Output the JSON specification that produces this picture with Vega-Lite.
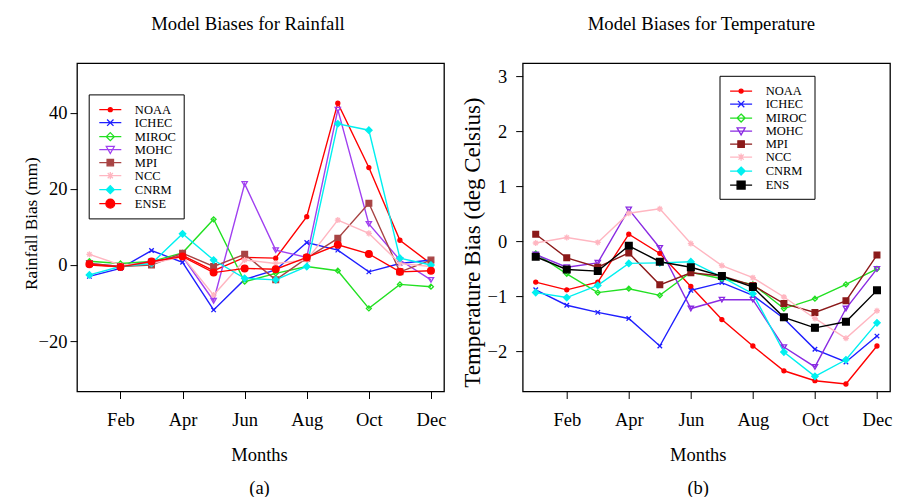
{
  "$schema": "https://vega.github.io/schema/vega-lite/v6.json",
  "background": "white",
  "padding": {"left": 21, "top": 14.1, "right": 5, "bottom": 2},
  "bounds": "flush",
  "spacing": 78.7,
  "config": {
    "font": "Liberation Serif",
    "view": {"stroke": "black", "strokeWidth": 1.3},
    "axis": {"domain": false, "grid": false, "ticks": true, "tickColor": "black", "tickSize": 7, "tickWidth": 1, "labelFont": "Liberation Serif", "labelFontSize": 18.5, "labelColor": "black", "labelOverlap": false, "labelFlush": false, "labelBound": false, "titleFont": "Liberation Serif", "titleFontWeight": "normal", "titleColor": "black"},
    "legend": {"labelFont": "Liberation Serif", "labelFontSize": 12.5, "labelColor": "black", "titleFont": "Liberation Serif", "titleFontSize": 1, "titlePadding": 1, "rowPadding": 0},
    "title": {"font": "Liberation Serif", "fontSize": 18.7, "fontWeight": "normal", "color": "black", "anchor": "middle", "frame": "group", "baseline": "alphabetic", "offset": 29}
  },
  "datasets": {
    "rain": [
      {"model":"NOAA","month":1,"bias":0},{"model":"NOAA","month":2,"bias":-0.5},{"model":"NOAA","month":3,"bias":0.5},{"model":"NOAA","month":4,"bias":2.5},{"model":"NOAA","month":5,"bias":-1.5},{"model":"NOAA","month":6,"bias":2.0},{"model":"NOAA","month":7,"bias":1.8},{"model":"NOAA","month":8,"bias":12.7},{"model":"NOAA","month":9,"bias":42.5},{"model":"NOAA","month":10,"bias":25.6},{"model":"NOAA","month":11,"bias":6.5},{"model":"NOAA","month":12,"bias":0.3},
      {"model":"ICHEC","month":1,"bias":-3.0},{"model":"ICHEC","month":2,"bias":-0.9},{"model":"ICHEC","month":3,"bias":3.8},{"model":"ICHEC","month":4,"bias":0.7},{"model":"ICHEC","month":5,"bias":-11.8},{"model":"ICHEC","month":6,"bias":-3.8},{"model":"ICHEC","month":7,"bias":-1.3},{"model":"ICHEC","month":8,"bias":5.9},{"model":"ICHEC","month":9,"bias":3.9},{"model":"ICHEC","month":10,"bias":-1.8},{"model":"ICHEC","month":11,"bias":0.4},{"model":"ICHEC","month":12,"bias":1.3},
      {"model":"MIROC","month":1,"bias":1.0},{"model":"MIROC","month":2,"bias":0.4},{"model":"MIROC","month":3,"bias":0.9},{"model":"MIROC","month":4,"bias":3.2},{"model":"MIROC","month":5,"bias":12.0},{"model":"MIROC","month":6,"bias":-4.4},{"model":"MIROC","month":7,"bias":-2.2},{"model":"MIROC","month":8,"bias":-0.4},{"model":"MIROC","month":9,"bias":-1.5},{"model":"MIROC","month":10,"bias":-11.4},{"model":"MIROC","month":11,"bias":-5.1},{"model":"MIROC","month":12,"bias":-5.7},
      {"model":"MOHC","month":1,"bias":0.4},{"model":"MOHC","month":2,"bias":-0.4},{"model":"MOHC","month":3,"bias":0.9},{"model":"MOHC","month":4,"bias":2.2},{"model":"MOHC","month":5,"bias":-9.4},{"model":"MOHC","month":6,"bias":21.3},{"model":"MOHC","month":7,"bias":3.9},{"model":"MOHC","month":8,"bias":2.0},{"model":"MOHC","month":9,"bias":40.8},{"model":"MOHC","month":10,"bias":10.8},{"model":"MOHC","month":11,"bias":1.3},{"model":"MOHC","month":12,"bias":-3.9},
      {"model":"MPI","month":1,"bias":0.4},{"model":"MPI","month":2,"bias":-0.4},{"model":"MPI","month":3,"bias":0.0},{"model":"MPI","month":4,"bias":3.1},{"model":"MPI","month":5,"bias":-0.4},{"model":"MPI","month":6,"bias":2.8},{"model":"MPI","month":7,"bias":-3.9},{"model":"MPI","month":8,"bias":1.8},{"model":"MPI","month":9,"bias":7.0},{"model":"MPI","month":10,"bias":16.2},{"model":"MPI","month":11,"bias":-1.8},{"model":"MPI","month":12,"bias":1.3},
      {"model":"NCC","month":1,"bias":2.8},{"model":"NCC","month":2,"bias":0.0},{"model":"NCC","month":3,"bias":0.4},{"model":"NCC","month":4,"bias":2.2},{"model":"NCC","month":5,"bias":-7.9},{"model":"NCC","month":6,"bias":1.3},{"model":"NCC","month":7,"bias":0.4},{"model":"NCC","month":8,"bias":1.3},{"model":"NCC","month":9,"bias":11.8},{"model":"NCC","month":10,"bias":8.3},{"model":"NCC","month":11,"bias":0.4},{"model":"NCC","month":12,"bias":-0.4},
      {"model":"CNRM","month":1,"bias":-2.6},{"model":"CNRM","month":2,"bias":-0.4},{"model":"CNRM","month":3,"bias":0.4},{"model":"CNRM","month":4,"bias":8.2},{"model":"CNRM","month":5,"bias":1.3},{"model":"CNRM","month":6,"bias":-3.5},{"model":"CNRM","month":7,"bias":-3.9},{"model":"CNRM","month":8,"bias":-0.4},{"model":"CNRM","month":9,"bias":37.1},{"model":"CNRM","month":10,"bias":35.4},{"model":"CNRM","month":11,"bias":1.8},{"model":"CNRM","month":12,"bias":0.0},
      {"model":"ENSE","month":1,"bias":0.2},{"model":"ENSE","month":2,"bias":-0.5},{"model":"ENSE","month":3,"bias":0.9},{"model":"ENSE","month":4,"bias":2.2},{"model":"ENSE","month":5,"bias":-2.0},{"model":"ENSE","month":6,"bias":-0.9},{"model":"ENSE","month":7,"bias":-1.1},{"model":"ENSE","month":8,"bias":2.0},{"model":"ENSE","month":9,"bias":5.3},{"model":"ENSE","month":10,"bias":2.9},{"model":"ENSE","month":11,"bias":-1.8},{"model":"ENSE","month":12,"bias":-1.5}
    ],
    "temp": [
      {"model":"NOAA","month":1,"bias":-0.74},{"model":"NOAA","month":2,"bias":-0.88},{"model":"NOAA","month":3,"bias":-0.74},{"model":"NOAA","month":4,"bias":0.13},{"model":"NOAA","month":5,"bias":-0.22},{"model":"NOAA","month":6,"bias":-0.82},{"model":"NOAA","month":7,"bias":-1.42},{"model":"NOAA","month":8,"bias":-1.90},{"model":"NOAA","month":9,"bias":-2.35},{"model":"NOAA","month":10,"bias":-2.53},{"model":"NOAA","month":11,"bias":-2.59},{"model":"NOAA","month":12,"bias":-1.90},
      {"model":"ICHEC","month":1,"bias":-0.88},{"model":"ICHEC","month":2,"bias":-1.16},{"model":"ICHEC","month":3,"bias":-1.29},{"model":"ICHEC","month":4,"bias":-1.40},{"model":"ICHEC","month":5,"bias":-1.90},{"model":"ICHEC","month":6,"bias":-0.89},{"model":"ICHEC","month":7,"bias":-0.75},{"model":"ICHEC","month":8,"bias":-0.98},{"model":"ICHEC","month":9,"bias":-1.40},{"model":"ICHEC","month":10,"bias":-1.96},{"model":"ICHEC","month":11,"bias":-2.19},{"model":"ICHEC","month":12,"bias":-1.72},
      {"model":"MIROC","month":1,"bias":-0.22},{"model":"MIROC","month":2,"bias":-0.59},{"model":"MIROC","month":3,"bias":-0.93},{"model":"MIROC","month":4,"bias":-0.86},{"model":"MIROC","month":5,"bias":-0.98},{"model":"MIROC","month":6,"bias":-0.56},{"model":"MIROC","month":7,"bias":-0.68},{"model":"MIROC","month":8,"bias":-0.78},{"model":"MIROC","month":9,"bias":-1.22},{"model":"MIROC","month":10,"bias":-1.04},{"model":"MIROC","month":11,"bias":-0.78},{"model":"MIROC","month":12,"bias":-0.50},
      {"model":"MOHC","month":1,"bias":-0.24},{"model":"MOHC","month":2,"bias":-0.47},{"model":"MOHC","month":3,"bias":-0.39},{"model":"MOHC","month":4,"bias":0.58},{"model":"MOHC","month":5,"bias":-0.12},{"model":"MOHC","month":6,"bias":-1.22},{"model":"MOHC","month":7,"bias":-1.06},{"model":"MOHC","month":8,"bias":-1.06},{"model":"MOHC","month":9,"bias":-1.92},{"model":"MOHC","month":10,"bias":-2.28},{"model":"MOHC","month":11,"bias":-1.22},{"model":"MOHC","month":12,"bias":-0.50},
      {"model":"MPI","month":1,"bias":0.13},{"model":"MPI","month":2,"bias":-0.30},{"model":"MPI","month":3,"bias":-0.47},{"model":"MPI","month":4,"bias":-0.21},{"model":"MPI","month":5,"bias":-0.79},{"model":"MPI","month":6,"bias":-0.57},{"model":"MPI","month":7,"bias":-0.63},{"model":"MPI","month":8,"bias":-0.80},{"model":"MPI","month":9,"bias":-1.13},{"model":"MPI","month":10,"bias":-1.29},{"model":"MPI","month":11,"bias":-1.08},{"model":"MPI","month":12,"bias":-0.25},
      {"model":"NCC","month":1,"bias":-0.03},{"model":"NCC","month":2,"bias":0.07},{"model":"NCC","month":3,"bias":-0.02},{"model":"NCC","month":4,"bias":0.51},{"model":"NCC","month":5,"bias":0.59},{"model":"NCC","month":6,"bias":-0.04},{"model":"NCC","month":7,"bias":-0.44},{"model":"NCC","month":8,"bias":-0.66},{"model":"NCC","month":9,"bias":-1.01},{"model":"NCC","month":10,"bias":-1.40},{"model":"NCC","month":11,"bias":-1.76},{"model":"NCC","month":12,"bias":-1.26},
      {"model":"CNRM","month":1,"bias":-0.93},{"model":"CNRM","month":2,"bias":-1.02},{"model":"CNRM","month":3,"bias":-0.80},{"model":"CNRM","month":4,"bias":-0.40},{"model":"CNRM","month":5,"bias":-0.39},{"model":"CNRM","month":6,"bias":-0.37},{"model":"CNRM","month":7,"bias":-0.65},{"model":"CNRM","month":8,"bias":-0.95},{"model":"CNRM","month":9,"bias":-2.01},{"model":"CNRM","month":10,"bias":-2.45},{"model":"CNRM","month":11,"bias":-2.15},{"model":"CNRM","month":12,"bias":-1.48},
      {"model":"ENS","month":1,"bias":-0.28},{"model":"ENS","month":2,"bias":-0.51},{"model":"ENS","month":3,"bias":-0.54},{"model":"ENS","month":4,"bias":-0.08},{"model":"ENS","month":5,"bias":-0.37},{"model":"ENS","month":6,"bias":-0.47},{"model":"ENS","month":7,"bias":-0.63},{"model":"ENS","month":8,"bias":-0.83},{"model":"ENS","month":9,"bias":-1.38},{"model":"ENS","month":10,"bias":-1.57},{"model":"ENS","month":11,"bias":-1.46},{"model":"ENS","month":12,"bias":-0.89}
    ]
  },
  "resolve": {
    "scale": {"color": "independent", "stroke": "independent", "fill": "independent", "shape": "independent", "size": "independent", "strokeWidth": "independent"},
    "legend": {"color": "independent", "stroke": "independent", "fill": "independent", "shape": "independent"}
  },
  "hconcat": [
    {
      "width": 367,
      "height": 328.4,
      "title": {"text": "Model Biases for Rainfall", "dx": -12.5},
      "data": {"name": "rain"},
      "resolve": {"scale": {"fill": "independent", "stroke": "independent", "shape": "independent", "size": "independent"}},
      "encoding": {
        "x": {"field": "month", "type": "quantitative", "scale": {"domain": [0.6, 12.42], "nice": false, "zero": false},
          "axis": {"values": [2, 4, 6, 8, 10, 12], "labelExpr": "['','Jan','Feb','Mar','Apr','May','Jun','Jul','Aug','Sep','Oct','Nov','Dec'][datum.value]", "labelPadding": 12, "title": ["Months", "(a)"], "titleFontSize": 18.5, "titleLineHeight": 33, "titleX": 182, "titleY": 69, "titleBaseline": "alphabetic", "titleAlign": "center"}},
        "y": {"field": "bias", "type": "quantitative", "scale": {"domain": [-33.23, 53.03], "nice": false, "zero": false},
          "axis": {"values": [-20, 0, 20, 40], "labelPadding": 3, "title": "Rainfall Bias (mm)", "titleFontSize": 17.2, "titleX": -46, "titleY": 160, "titleBaseline": "middle", "titleAlign": "center", "titleAngle": -90}}
      },
      "layer": [
        {
          "mark": {"type": "line", "clip": true},
          "encoding": {
            "color": {"field": "model", "type": "nominal",
              "scale": {"domain": ["NOAA", "ICHEC", "MIROC", "MOHC", "MPI", "NCC", "CNRM", "ENSE"], "range": ["#ff0000", "#1f1fff", "#22e022", "#a040f0", "#a84444", "#ffb6c1", "#00f0f0", "#ff0000"]},
              "legend": null},
            "strokeWidth": {"field": "model", "type": "nominal", "scale": {"domain": ["NOAA", "ICHEC", "MIROC", "MOHC", "MPI", "NCC", "CNRM", "ENSE"], "range": [1.4, 1.4, 1.4, 1.4, 1.4, 1.4, 1.4, 3.4]}, "legend": null}
          }
        },
        {
          "mark": {"type": "point", "filled": false, "opacity": 1, "strokeWidth": 1.3, "clip": true},
          "encoding": {
            "color": {"field": "model", "type": "nominal",
              "scale": {"domain": ["NOAA", "ICHEC", "MIROC", "MOHC", "MPI", "NCC", "CNRM", "ENSE"], "range": ["#ff0000", "#1f1fff", "#22e022", "#a040f0", "#a84444", "#ffb6c1", "#00f0f0", "#ff0000"]},
              "legend": null},
            "fill": {"field": "model", "type": "nominal",
              "scale": {"domain": ["NOAA", "ICHEC", "MIROC", "MOHC", "MPI", "NCC", "CNRM", "ENSE"], "range": ["#ff0000", "transparent", "transparent", "transparent", "#a84444", "transparent", "#00f0f0", "#ff0000"]},
              "legend": null},
            "shape": {"field": "model", "type": "nominal",
              "scale": {"domain": ["NOAA", "ICHEC", "MIROC", "MOHC", "MPI", "NCC", "CNRM", "ENSE"], "range": ["circle", "M-1,-1L1,1M-1,1L1,-1", "diamond", "triangle-down", "square", "M-1,0L1,0M0,-1L0,1M-0.7,-0.7L0.7,0.7M-0.7,0.7L0.7,-0.7", "diamond", "circle"]},
              "legend": null},
            "size": {"field": "model", "type": "nominal", "scale": {"domain": ["NOAA", "ICHEC", "MIROC", "MOHC", "MPI", "NCC", "CNRM", "ENSE"], "range": [16, 45, 70, 65, 49, 60, 70, 100]}, "legend": null}
          }
        },
        {
          "mark": {"type": "point", "filled": false, "opacity": 0, "strokeWidth": 1.3},
          "encoding": {
            "fill": {"field": "model", "type": "nominal",
              "scale": {"domain": ["NOAA", "ICHEC", "MIROC", "MOHC", "MPI", "NCC", "CNRM", "ENSE"], "range": ["#ff0000", "transparent", "transparent", "transparent", "#a84444", "transparent", "#00f0f0", "#ff0000"]},
              "legend": {"orient": "none", "legendX": 11.7, "legendY": 31.3, "title": " ", "symbolSize": 16, "symbolStrokeWidth": 1.3, "symbolOpacity": 1, "symbolOffset": 8.35, "labelOffset": 18.3, "rowPadding": 0, "padding": 7, "strokeColor": "black"}},
            "stroke": {"field": "model", "type": "nominal",
              "scale": {"domain": ["NOAA", "ICHEC", "MIROC", "MOHC", "MPI", "NCC", "CNRM", "ENSE"], "range": ["#ff0000", "#1f1fff", "#22e022", "#a040f0", "#a84444", "#ffb6c1", "#00f0f0", "#ff0000"]},
              "legend": {"orient": "none", "legendX": 11.7, "legendY": 31.3, "title": " ", "symbolSize": 16, "symbolStrokeWidth": 1.3, "symbolOpacity": 1, "symbolOffset": 8.35, "labelOffset": 18.3, "rowPadding": 0, "padding": 7, "strokeColor": "black"}},
            "shape": {"field": "model", "type": "nominal",
              "scale": {"domain": ["NOAA", "ICHEC", "MIROC", "MOHC", "MPI", "NCC", "CNRM", "ENSE"], "range": [
                "M-5.5,0L5.5,0M-1,0A1,1 0 1,0 1,0A1,1 0 1,0 -1,0Z",
                "M-5.5,0L5.5,0M-1.6,-1.6L1.6,1.6M-1.6,1.6L1.6,-1.6",
                "M-5.5,0L5.5,0M0,-2L2,0L0,2L-2,0Z",
                "M-5.5,0L5.5,0M-2,-1.6L2,-1.6L0,1.9Z",
                "M-5.5,0L5.5,0M-1.6,-1.6L1.6,-1.6L1.6,1.6L-1.6,1.6Z",
                "M-5.5,0L5.5,0M-1.8,0L1.8,0M0,-1.8L0,1.8M-1.3,-1.3L1.3,1.3M-1.3,1.3L1.3,-1.3",
                "M-5.5,0L5.5,0M0,-2L2,0L0,2L-2,0Z",
                "M-5.5,0L5.5,0M-2.2,0A2.2,2.2 0 1,0 2.2,0A2.2,2.2 0 1,0 -2.2,0Z"]},
              "legend": {"orient": "none", "legendX": 11.7, "legendY": 31.3, "title": " ", "symbolSize": 16, "symbolStrokeWidth": 1.3, "symbolOpacity": 1, "symbolOffset": 8.35, "labelOffset": 18.3, "rowPadding": 0, "padding": 7, "strokeColor": "black"}}
          }
        }
      ]
    },
    {
      "width": 367.3,
      "height": 328.4,
      "title": {"text": "Model Biases for Temperature", "dx": -5},
      "data": {"name": "temp"},
      "resolve": {"scale": {"fill": "independent", "stroke": "independent", "shape": "independent", "size": "independent"}},
      "encoding": {
        "x": {"field": "month", "type": "quantitative", "scale": {"domain": [0.58, 12.42], "nice": false, "zero": false},
          "axis": {"values": [2, 4, 6, 8, 10, 12], "labelExpr": "['','Jan','Feb','Mar','Apr','May','Jun','Jul','Aug','Sep','Oct','Nov','Dec'][datum.value]", "labelPadding": 12, "title": ["Months", "(b)"], "titleFontSize": 18.5, "titleLineHeight": 33, "titleX": 175, "titleY": 68.5, "titleBaseline": "alphabetic", "titleAlign": "center"}},
        "y": {"field": "bias", "type": "quantitative", "scale": {"domain": [-2.726, 3.236], "nice": false, "zero": false},
          "axis": {"values": [-2, -1, 0, 1, 2, 3], "labelPadding": 9, "title": "Temperature Bias (deg Celsius)", "titleFontSize": 23, "titleX": -50, "titleY": 179, "titleBaseline": "middle", "titleAlign": "center", "titleAngle": -90}}
      },
      "layer": [
        {
          "mark": {"type": "line", "clip": true},
          "encoding": {
            "color": {"field": "model", "type": "nominal",
              "scale": {"domain": ["NOAA", "ICHEC", "MIROC", "MOHC", "MPI", "NCC", "CNRM", "ENS"], "range": ["#ff0000", "#1f1fff", "#22e022", "#8a2be2", "#8b1a1a", "#ffb6c1", "#00f0f0", "#000000"]},
              "legend": null},
            "strokeWidth": {"field": "model", "type": "nominal", "scale": {"domain": ["NOAA", "ICHEC", "MIROC", "MOHC", "MPI", "NCC", "CNRM", "ENS"], "range": [1.4, 1.4, 1.4, 1.4, 1.4, 1.4, 1.4, 2.8]}, "legend": null}
          }
        },
        {
          "mark": {"type": "point", "filled": false, "opacity": 1, "strokeWidth": 1.3, "clip": true},
          "encoding": {
            "color": {"field": "model", "type": "nominal",
              "scale": {"domain": ["NOAA", "ICHEC", "MIROC", "MOHC", "MPI", "NCC", "CNRM", "ENS"], "range": ["#ff0000", "#1f1fff", "#22e022", "#8a2be2", "#8b1a1a", "#ffb6c1", "#00f0f0", "#000000"]},
              "legend": null},
            "fill": {"field": "model", "type": "nominal",
              "scale": {"domain": ["NOAA", "ICHEC", "MIROC", "MOHC", "MPI", "NCC", "CNRM", "ENS"], "range": ["#ff0000", "transparent", "transparent", "transparent", "#8b1a1a", "transparent", "#00f0f0", "#000000"]},
              "legend": null},
            "shape": {"field": "model", "type": "nominal",
              "scale": {"domain": ["NOAA", "ICHEC", "MIROC", "MOHC", "MPI", "NCC", "CNRM", "ENS"], "range": ["circle", "M-1,-1L1,1M-1,1L1,-1", "diamond", "triangle-down", "square", "M-1,0L1,0M0,-1L0,1M-0.7,-0.7L0.7,0.7M-0.7,0.7L0.7,-0.7", "diamond", "square"]},
              "legend": null},
            "size": {"field": "model", "type": "nominal", "scale": {"domain": ["NOAA", "ICHEC", "MIROC", "MOHC", "MPI", "NCC", "CNRM", "ENS"], "range": [16, 45, 70, 65, 49, 60, 70, 81]}, "legend": null}
          }
        },
        {
          "mark": {"type": "point", "filled": false, "opacity": 0, "strokeWidth": 1.3},
          "encoding": {
            "fill": {"field": "model", "type": "nominal",
              "scale": {"domain": ["NOAA", "ICHEC", "MIROC", "MOHC", "MPI", "NCC", "CNRM", "ENS"], "range": ["#ff0000", "transparent", "transparent", "transparent", "#8b1a1a", "transparent", "#00f0f0", "#000000"]},
              "legend": {"orient": "none", "legendX": 196.8, "legendY": 12.7, "title": " ", "symbolSize": 16, "symbolStrokeWidth": 1.3, "symbolOpacity": 1, "symbolOffset": 8.35, "labelOffset": 18.3, "rowPadding": 0, "padding": 7, "strokeColor": "black"}},
            "stroke": {"field": "model", "type": "nominal",
              "scale": {"domain": ["NOAA", "ICHEC", "MIROC", "MOHC", "MPI", "NCC", "CNRM", "ENS"], "range": ["#ff0000", "#1f1fff", "#22e022", "#8a2be2", "#8b1a1a", "#ffb6c1", "#00f0f0", "#000000"]},
              "legend": {"orient": "none", "legendX": 196.8, "legendY": 12.7, "title": " ", "symbolSize": 16, "symbolStrokeWidth": 1.3, "symbolOpacity": 1, "symbolOffset": 8.35, "labelOffset": 18.3, "rowPadding": 0, "padding": 7, "strokeColor": "black"}},
            "shape": {"field": "model", "type": "nominal",
              "scale": {"domain": ["NOAA", "ICHEC", "MIROC", "MOHC", "MPI", "NCC", "CNRM", "ENS"], "range": [
                "M-5.5,0L5.5,0M-1,0A1,1 0 1,0 1,0A1,1 0 1,0 -1,0Z",
                "M-5.5,0L5.5,0M-1.6,-1.6L1.6,1.6M-1.6,1.6L1.6,-1.6",
                "M-5.5,0L5.5,0M0,-2L2,0L0,2L-2,0Z",
                "M-5.5,0L5.5,0M-2,-1.6L2,-1.6L0,1.9Z",
                "M-5.5,0L5.5,0M-1.6,-1.6L1.6,-1.6L1.6,1.6L-1.6,1.6Z",
                "M-5.5,0L5.5,0M-1.8,0L1.8,0M0,-1.8L0,1.8M-1.3,-1.3L1.3,1.3M-1.3,1.3L1.3,-1.3",
                "M-5.5,0L5.5,0M0,-2L2,0L0,2L-2,0Z",
                "M-5.5,0L5.5,0M-2,-2L2,-2L2,2L-2,2Z"]},
              "legend": {"orient": "none", "legendX": 196.8, "legendY": 12.7, "title": " ", "symbolSize": 16, "symbolStrokeWidth": 1.3, "symbolOpacity": 1, "symbolOffset": 8.35, "labelOffset": 18.3, "rowPadding": 0, "padding": 7, "strokeColor": "black"}}
          }
        }
      ]
    }
  ]
}
